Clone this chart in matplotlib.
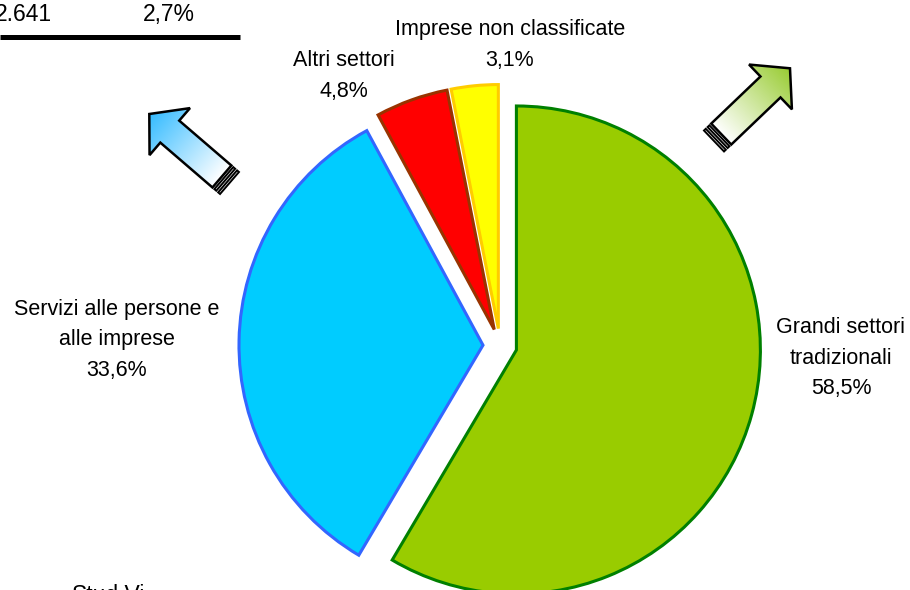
import numpy as np
import matplotlib
matplotlib.use("Agg")
import matplotlib.pyplot as plt
from matplotlib.patches import Polygon
from matplotlib.colors import LinearSegmentedColormap

plt.rcParams["font.family"] = ["Liberation Sans", "DejaVu Sans"]

# data
categories = ["Grandi settori\ntradizionali", "Servizi alle persone e\nalle imprese",
              "Altri settori", "Imprese non classificate"]
shares = [58.5, 33.6, 4.8, 3.1]
face_colors = ["#99CC00", "#00CCFF", "#FF0000", "#FFFF00"]
edge_colors = ["#008000", "#3366FF", "#993300", "#FFCC00"]

# leftover of the table above the chart (cut off in the source)
table_values = ["2.641", "2,7%"]
footer_text = "Stud.Vi"

W, H = 910, 590


def fmt_pct(v):
    return f"{v:.1f}".replace(".", ",") + "%"


def py(y):
    # pixel row (top-down) -> data y (bottom-up)
    return H - y


def striped_arrow(ax, tail_px, tip_px, color, hw=14.5, HW=31, hl=27):
    tail = np.array([tail_px[0], py(tail_px[1])], dtype=float)
    tip = np.array([tip_px[0], py(tip_px[1])], dtype=float)
    vec = tip - tail
    L = np.hypot(*vec)
    u = vec / L
    v = np.array([-u[1], u[0]])

    def pt(s, t):
        return tail + s * u + t * v

    s0 = 10
    body = [pt(s0, -hw), pt(L - hl, -hw), pt(L - hl, -HW), pt(L, 0),
            pt(L - hl, HW), pt(L - hl, hw), pt(s0, hw)]
    patch = Polygon(body, closed=True, facecolor="none", edgecolor="black",
                    lw=1.8, joinstyle="miter", zorder=4)
    ax.add_patch(patch)

    arr = np.array(body)
    xmin, ymin = arr.min(axis=0)
    xmax, ymax = arr.max(axis=0)
    X, Y = np.meshgrid(np.linspace(xmin, xmax, 200), np.linspace(ymin, ymax, 200))
    proj = ((X - tail[0]) * u[0] + (Y - tail[1]) * u[1] - s0) / (L - s0)
    cmap = LinearSegmentedColormap.from_list("grad", ["white", color])
    im = ax.imshow(np.clip(proj, 0, 1), extent=(xmin, xmax, ymin, ymax), origin="lower",
                   cmap=cmap, vmin=0, vmax=1, zorder=3, interpolation="bilinear")
    im.set_clip_path(patch)

    # the two stripes at the tail
    for a, b in [(0, 2.5), (5, 7.5)]:
        rect = [pt(a, -hw), pt(b, -hw), pt(b, hw), pt(a, hw)]
        ax.add_patch(Polygon(rect, closed=True, facecolor="white", edgecolor="black",
                             lw=1.4, zorder=4))


fig = plt.figure(figsize=(W / 100, H / 100), dpi=100)
ax = fig.add_axes([0, 0, 1, 1])

wedges, _ = ax.pie(shares, explode=[17] * len(shares), colors=face_colors,
                   startangle=90, counterclock=False, radius=244,
                   center=(500, py(345.5)),
                   wedgeprops=dict(linewidth=2.2))
for w, ec in zip(wedges, edge_colors):
    w.set_edgecolor(ec)
    w.set_joinstyle("miter")

# labels (placed like the original Excel chart)
label_pos = [(841, 358), (117, 340), (344, 76), (510, 45)]
for name, val, (x, y) in zip(categories, shares, label_pos):
    ax.text(x, py(y), f"{name}\n{fmt_pct(val)}", ha="center", va="center",
            multialignment="center", fontsize=15.5, linespacing=1.6, color="black")

# arrows
striped_arrow(ax, (229.5, 183), (149.3, 114), "#33BBFF")
striped_arrow(ax, (714, 141), (790, 68.3), "#99CC33")

# table fragment at the top left
ax.text(52, py(21), table_values[0], ha="right", va="baseline", fontsize=16.5)
ax.text(169, py(21), table_values[1], ha="center", va="baseline", fontsize=16.5)
ax.plot([0, 240], [py(37), py(37)], color="black", lw=3.6, solid_capstyle="butt")

ax.text(72, py(584), footer_text, ha="left", va="top", fontsize=16.5)

ax.set_xlim(0, W)
ax.set_ylim(0, H)
ax.set_aspect("auto")
ax.axis("off")

fig.savefig("out.png", dpi=100)
